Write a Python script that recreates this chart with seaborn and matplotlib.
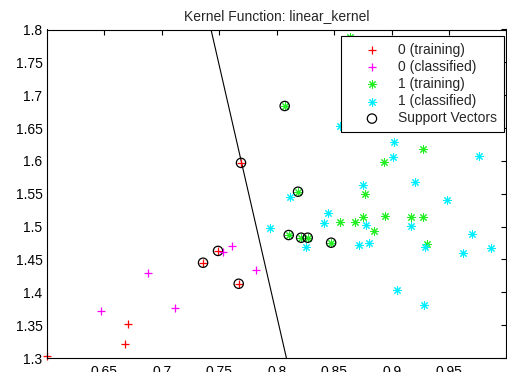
import matplotlib
matplotlib.use('Agg')
import matplotlib.pyplot as plt
import seaborn as sns

# class 0, training points (red +)
train0_x = [0.600, 0.668, 0.671, 0.736, 0.749, 0.767, 0.769]
train0_y = [1.3035, 1.322, 1.352, 1.445, 1.463, 1.413, 1.597]

# class 0, classified points (magenta +)
class0_x = [0.647, 0.6885, 0.712, 0.753, 0.761, 0.782]
class0_y = [1.3715, 1.430, 1.3756, 1.461, 1.471, 1.434]

# class 1, training points (green *)
train1_x = [0.807, 0.8186, 0.8105, 0.8213, 0.827, 0.8474, 0.8636, 0.8932, 0.9272,
            0.8767, 0.8555, 0.868, 0.8749, 0.8941, 0.8845, 0.9167, 0.9275, 0.931]
train1_y = [1.6836, 1.5531, 1.4872, 1.4831, 1.4831, 1.4755, 1.788, 1.598, 1.6176,
            1.549, 1.5075, 1.5075, 1.515, 1.5166, 1.4933, 1.5141, 1.5141, 1.4735]

# class 1, classified points (cyan *)
class1_x = [0.8549, 0.9025, 0.9014, 0.976, 0.8749, 0.92, 0.8113, 0.9484, 0.8448, 0.841, 0.7945,
            0.8773, 0.9165, 0.8256, 0.8714, 0.8801, 0.9289, 0.9696, 0.962, 0.9861, 0.9043, 0.928]
class1_y = [1.6531, 1.6292, 1.6064, 1.6075, 1.5633, 1.5684, 1.5455, 1.5405, 1.5212, 1.505, 1.4983,
            1.5024, 1.5009, 1.4685, 1.472, 1.4746, 1.4685, 1.4883, 1.4603, 1.467, 1.4035, 1.3807]

# support vectors
sv_x = [0.736, 0.749, 0.767, 0.769, 0.807, 0.8186, 0.8105, 0.8213, 0.827, 0.8474]
sv_y = [1.445, 1.463, 1.413, 1.597, 1.6836, 1.5531, 1.4872, 1.4831, 1.4831, 1.4755]

# separating line (linear kernel decision boundary)
boundary_x = [0.7429, 0.8085]
boundary_y = [1.8, 1.3]

x_ticks = [0.65, 0.7, 0.75, 0.8, 0.85, 0.9, 0.95]
y_ticks = [1.3, 1.35, 1.4, 1.45, 1.5, 1.55, 1.6, 1.65, 1.7, 1.75, 1.8]

legend_order = ['0 (training)', '0 (classified)', '1 (training)', '1 (classified)', 'Support Vectors']

sns.set_style('white')
plt.rcParams['font.family'] = ['Liberation Sans', 'DejaVu Sans']
plt.rcParams['font.size'] = 10

fig = plt.figure(figsize=(5.07, 3.72), dpi=100)
ax = fig.add_axes([46.7 / 507, 14 / 372, 459.3 / 507, 328.5 / 372])

# MATLAB-like asterisk: + and x overlaid
asterisk = (8, 2, 0)

sns.lineplot(x=boundary_x, y=boundary_y, color='black', linewidth=0.8, sort=False, ax=ax, zorder=1)
sns.scatterplot(x=train0_x, y=train0_y, marker='+', color='#ff0000', s=40, linewidth=0.9,
                label='0 (training)', ax=ax, clip_on=False, zorder=2)
sns.scatterplot(x=train1_x, y=train1_y, marker=asterisk, color='#22ee22', s=30, linewidth=0.75,
                label='1 (training)', ax=ax, zorder=2)
sns.scatterplot(x=sv_x, y=sv_y, marker='o', facecolor='none', edgecolor='black', s=45, linewidth=0.9,
                label='Support Vectors', ax=ax, zorder=3)
sns.scatterplot(x=class0_x, y=class0_y, marker='+', color='#ff00ff', s=40, linewidth=0.9,
                label='0 (classified)', ax=ax, zorder=4)
sns.scatterplot(x=class1_x, y=class1_y, marker=asterisk, color='#00eeff', s=30, linewidth=0.75,
                label='1 (classified)', ax=ax, zorder=4)

ax.set_xlim(0.6, 0.9995)
ax.set_ylim(1.3, 1.8)
ax.set_xticks(x_ticks)
ax.set_yticks(y_ticks)
ax.set_xticklabels([f'{v:g}' for v in x_ticks])
ax.set_yticklabels([f'{v:g}' for v in y_ticks])
ax.tick_params(direction='in', length=3.5, width=0.8, top=True, right=True, colors='black',
               labelsize=10)
ax.tick_params(axis='x', pad=5)
ax.tick_params(axis='y', pad=3)
for sp in ax.spines.values():
    sp.set_visible(True)
    sp.set_color('black')
    sp.set_linewidth(0.8)

ax.set_title('Kernel Function: linear_kernel', fontsize=10, pad=7)

handles, labels = ax.get_legend_handles_labels()
lookup = dict(zip(labels, handles))
leg = ax.legend([lookup[l] for l in legend_order], legend_order, loc='upper right',
                bbox_to_anchor=(0.9963, 0.980), borderaxespad=0, fancybox=False,
                frameon=True, edgecolor='black', framealpha=1, fontsize=10,
                borderpad=0.5, handlelength=3.5, handletextpad=0.15, labelspacing=0.22)
leg.get_frame().set_linewidth(0.8)
leg.set_zorder(10)

fig.savefig('out.png', dpi=100, facecolor='white')
